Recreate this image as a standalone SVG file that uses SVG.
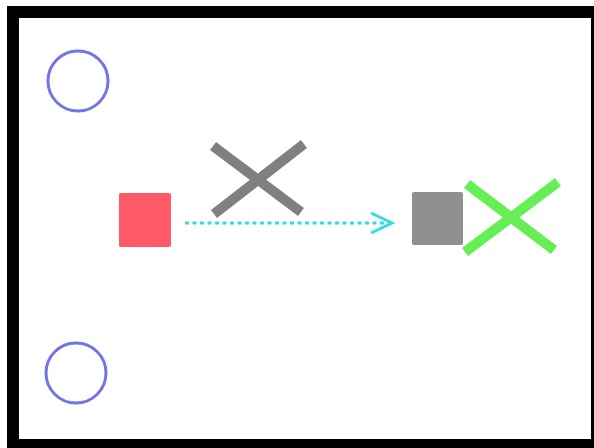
<svg xmlns="http://www.w3.org/2000/svg" width="594" height="448" viewBox="0 0 594 448">
  <defs>
    <style>
      .ring { fill: none; stroke: #7373ea; stroke-width: 3; }
      .cross { fill: none; stroke-width: 10; stroke-linecap: butt; }
      .link { fill: none; stroke: #33dde0; stroke-width: 3; stroke-dasharray: 4 3.5; }
    </style>
    <marker id="chevron" markerUnits="userSpaceOnUse" viewBox="0 0 26 24" refX="23" refY="12" markerWidth="26" markerHeight="24" orient="auto">
      <path d="M2,2 L23,12 L2,22" fill="none" stroke="#33dde0" stroke-width="3"/>
    </marker>
  </defs>

  <rect x="0" y="0" width="594" height="448" fill="#ffffff"/>
  <!-- frame -->
  <rect x="13" y="12" width="584" height="433" fill="none" stroke="#000000" stroke-width="12"/>

  <g id="ring-top"><circle class="ring" cx="78" cy="81" r="30"/></g>
  <g id="ring-bottom"><circle class="ring" cx="76" cy="373" r="30"/></g>

  <g id="source"><rect x="119" y="193" width="52" height="54" rx="2" fill="#ff5a68"/></g>
  <g id="cross-gray">
    <line class="cross" stroke="#808080" x1="213" y1="146" x2="301" y2="212"/>
    <line class="cross" stroke="#808080" x1="304" y1="144" x2="214" y2="214"/>
  </g>
  <g id="target"><rect x="412" y="192" width="51" height="53" rx="2" fill="#909090"/></g>
  <g id="cross-green">
    <line class="cross" stroke="#66ee55" x1="467" y1="184" x2="554" y2="250"/>
    <line class="cross" stroke="#66ee55" x1="558" y1="182" x2="465" y2="252"/>
  </g>

  <g id="connectors">
    <line class="link" x1="185" y1="223" x2="392" y2="223" marker-end="url(#chevron)"/>
  </g>
</svg>
